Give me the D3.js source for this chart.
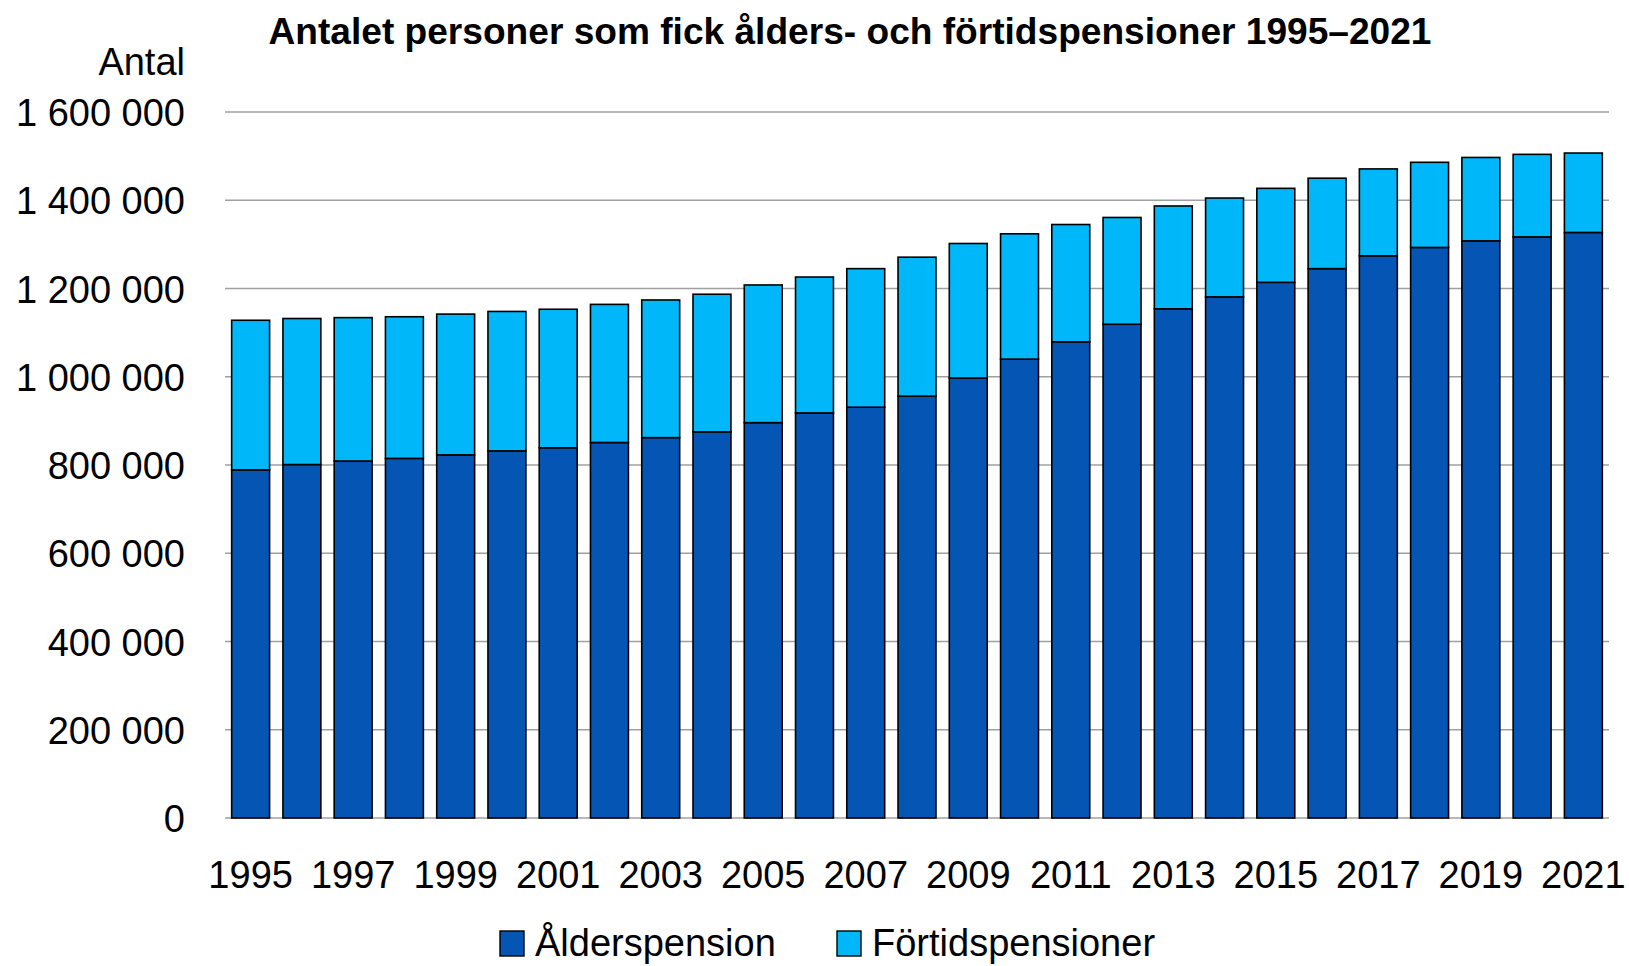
<!DOCTYPE html>
<html>
<head>
<meta charset="utf-8">
<script src="https://cdn.jsdelivr.net/npm/d3@7"></script>
<style>
  html, body { margin: 0; padding: 0; background: #fff; }
  svg { display: block; }
  text { font-family: "Liberation Sans", Arial, sans-serif; fill: #000; }
</style>
</head>
<body>
<svg id="chart" width="1629" height="966"></svg>
<script>
const years = [1995,1996,1997,1998,1999,2000,2001,2002,2003,2004,2005,2006,2007,2008,2009,2010,2011,2012,2013,2014,2015,2016,2017,2018,2019,2020,2021];
const alderspension = [789000,801000,809000,815000,823000,832000,839000,851000,862000,875000,896000,918000,931000,956000,997000,1040000,1079000,1119000,1154000,1181000,1214000,1245000,1274000,1293000,1308000,1317000,1327000];
const fortidspension = [339000,331000,325000,321000,319000,316000,314000,313000,312000,312000,312000,308000,314000,315000,305000,284000,266000,242000,233000,224000,213000,205000,197000,193000,189000,187000,180000];
const yTicks = [0,200000,400000,600000,800000,1000000,1200000,1400000,1600000];
const seriesNames = ["Ålderspension","Förtidspensioner"];
const seriesColors = ["#0455b4","#00b7fa"];
const titleText = "Antalet personer som fick ålders- och förtidspensioner 1995–2021";
const yAxisTitle = "Antal";

const svg = d3.select("#chart");
const m = {left: 225, right: 20, top: 112, bottom: 148};
const W = 1629, H = 966;
const plotW = W - m.left - m.right;
const y0 = H - m.bottom;

const x = d3.scaleBand().domain(years).range([m.left, m.left + plotW]).paddingInner(0.26).paddingOuter(0.13);
const y = d3.scaleLinear().domain([0, 1600000]).range([y0, m.top]);

const fmt = v => d3.format(",")(v).replace(/,/g, " ");

// gridlines
svg.append("g").selectAll("line").data(yTicks).join("line")
  .attr("x1", m.left).attr("x2", m.left + plotW)
  .attr("y1", d => y(d)).attr("y2", d => y(d))
  .attr("stroke", "#a0a0a0").attr("stroke-width", 1.6);

// y labels
const yAxis = d3.axisLeft(y).tickValues(yTicks).tickFormat(fmt).tickSize(0).tickPadding(0);
const gy = svg.append("g").attr("transform", `translate(185,0)`).call(yAxis);
gy.select(".domain").remove();
gy.selectAll("text").attr("font-size", 38).attr("font-family", "'Liberation Sans', Arial, sans-serif").attr("fill", "#000").attr("dy", "0.36em");

svg.append("text").attr("x", 185).attr("y", 75).attr("text-anchor", "end").attr("font-size", 38).text(yAxisTitle);

// stacked data
const data = years.map((yr, i) => ({year: yr, a: alderspension[i], f: fortidspension[i]}));
const stack = d3.stack().keys(["a","f"])(data);

svg.append("g").selectAll("g").data(stack).join("g")
  .attr("fill", (d, i) => seriesColors[i])
  .selectAll("rect").data(d => d).join("rect")
  .attr("x", d => x(d.data.year))
  .attr("width", x.bandwidth())
  .attr("y", d => y(d[1]))
  .attr("height", d => y(d[0]) - y(d[1]))
  .attr("stroke", "#000").attr("stroke-width", 1.6);

// x axis labels
const xAxis = d3.axisBottom(x).tickValues(years.filter((d, i) => i % 2 === 0)).tickSize(0).tickPadding(0);
const gx = svg.append("g").attr("transform", `translate(0,${y0})`).call(xAxis);
gx.select(".domain").remove();
gx.selectAll("text").attr("font-size", 38).attr("font-family", "'Liberation Sans', Arial, sans-serif").attr("fill", "#000").attr("dy", null).attr("y", 70);

// title
svg.append("text").attr("x", 850).attr("y", 44).attr("text-anchor", "middle")
  .attr("font-size", 36).attr("font-weight", "bold")
  .attr("textLength", 1163).attr("lengthAdjust", "spacingAndGlyphs")
  .text(titleText);

// legend
const legX = [500, 837];
const lg = svg.append("g");
seriesNames.forEach((n, i) => {
  lg.append("rect").attr("x", legX[i]).attr("y", 931).attr("width", 24).attr("height", 25)
    .attr("fill", seriesColors[i]).attr("stroke", "#000").attr("stroke-width", 1.4);
  lg.append("text").attr("x", legX[i] + 35).attr("y", 956).attr("font-size", 38).text(n);
});
</script>
</body>
</html>
